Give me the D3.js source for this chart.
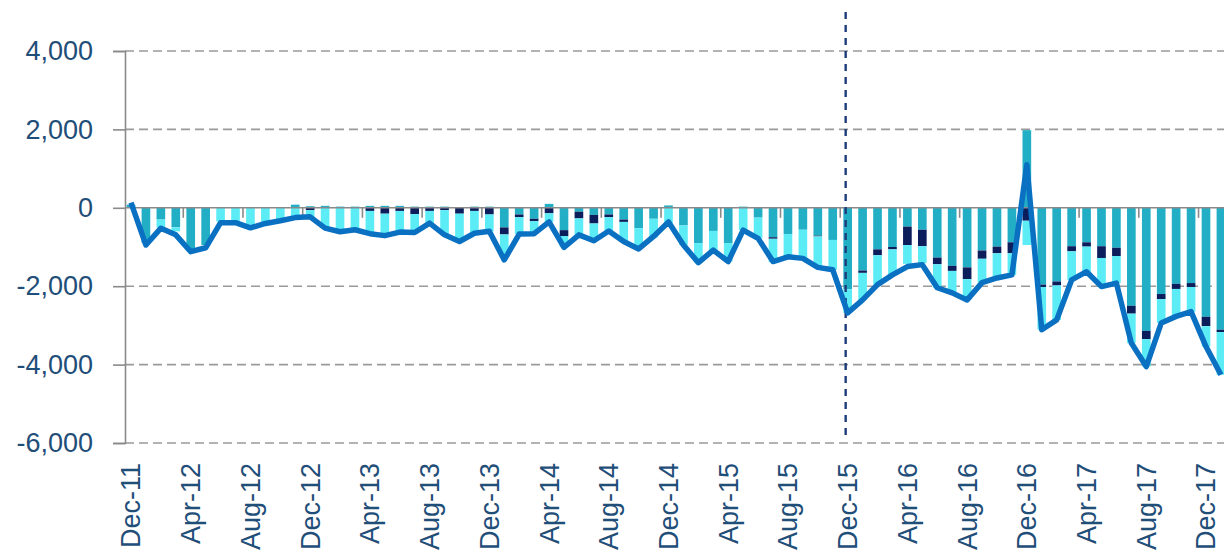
<!DOCTYPE html>
<html>
<head>
<meta charset="utf-8">
<script src="https://cdn.jsdelivr.net/npm/d3@7"></script>
<style>
  body { margin: 0; background: #fff; }
  svg text { font-family: "Liberation Sans", Arial, sans-serif; fill: #1f4e79; }
</style>
</head>
<body>
<svg id="chart" width="1224" height="556"></svg>
<script>
// ----- data -----
var months = ["Dec-11","Jan-12","Feb-12","Mar-12","Apr-12","May-12","Jun-12","Jul-12","Aug-12","Sep-12","Oct-12","Nov-12",
  "Dec-12","Jan-13","Feb-13","Mar-13","Apr-13","May-13","Jun-13","Jul-13","Aug-13","Sep-13","Oct-13","Nov-13",
  "Dec-13","Jan-14","Feb-14","Mar-14","Apr-14","May-14","Jun-14","Jul-14","Aug-14","Sep-14","Oct-14","Nov-14",
  "Dec-14","Jan-15","Feb-15","Mar-15","Apr-15","May-15","Jun-15","Jul-15","Aug-15","Sep-15","Oct-15","Nov-15",
  "Dec-15","Jan-16","Feb-16","Mar-16","Apr-16","May-16","Jun-16","Jul-16","Aug-16","Sep-16","Oct-16","Nov-16",
  "Dec-16","Jan-17","Feb-17","Mar-17","Apr-17","May-17","Jun-17","Jul-17","Aug-17","Sep-17","Oct-17","Nov-17",
  "Dec-17","Jan-18"];

var tealVals = [80,-900,-300,-500,-1100,-950,0,0,0,0,0,80,
  40,50,30,30,50,50,50,30,30,30,20,30,
  30,-500,-170,-280,100,-570,-100,-180,-170,-300,-520,-280,
  60,-450,-900,-590,-900,30,-250,-750,-670,-560,-710,-820,
  -2080,-1600,-1060,-1000,-480,-560,-1270,-1480,-1520,-1090,-990,-880,
  1980,-1960,-1880,-980,-880,-980,-1020,-2500,-3140,-2200,-1940,-1920,
  -2780,-3110];

var navyVals = [0,0,0,0,0,0,0,0,0,0,0,0,
  -60,0,0,0,-80,-150,-80,-160,-80,-60,-150,-80,
  -170,-180,-70,-60,-140,-150,-170,-220,-70,-60,0,0,
  0,0,0,0,0,0,0,-40,0,0,-20,0,
  0,-60,-150,-60,-470,-420,-170,-130,-300,-210,-170,-280,
  -330,-60,-100,-130,-110,-300,-210,-200,-210,-130,-130,-100,
  -240,-60];

var cyanVals = [0,0,-200,-100,0,0,-350,-380,-480,-380,-300,-230,
  -200,-520,-600,-560,-600,-550,-540,-470,-300,-620,-700,-570,
  -430,-600,-430,-320,-220,-280,-420,-440,-350,-500,-530,-480,
  -400,-500,-500,-490,-470,-570,-530,-600,-580,-730,-800,-760,
  -600,-690,-750,-650,-480,-430,-600,-560,-530,-610,-630,-550,
  -620,-1090,-880,-730,-640,-730,-690,-750,-700,-610,-700,-630,
  -520,-1090];

var netVals = [130,-950,-520,-690,-1120,-1020,-380,-380,-510,-400,-330,-250,
  -230,-520,-610,-560,-660,-710,-620,-630,-390,-690,-860,-650,
  -600,-1330,-670,-660,-360,-1010,-690,-840,-590,-860,-1050,-730,
  -360,-950,-1400,-1080,-1370,-570,-780,-1370,-1250,-1290,-1520,-1580,
  -2680,-2350,-1960,-1710,-1500,-1450,-2040,-2170,-2350,-1910,-1790,-1710,
  1100,-3110,-2860,-1840,-1630,-2010,-1920,-3450,-4050,-2940,-2770,-2650,
  -3540,-4260];

var yTicks = [4000, 2000, 0, -2000, -4000, -6000];
var labelEvery = 4;
var markerMonth = "Dec-15";

// ----- layout -----
var svg = d3.select("#chart");
var plotLeft = 125, plotTop = 51, plotBottom = 443;
var step = 1075 / 72;

var x = d3.scaleBand()
  .domain(months)
  .range([131 - step / 2, 131 - step / 2 + step * months.length])
  .paddingInner(0.42)
  .paddingOuter(0.21);

var y = d3.scaleLinear().domain([-6000, 4000]).range([plotBottom, plotTop]);

var rows = months.map(function (m, i) {
  return { month: m, teal: tealVals[i], navy: navyVals[i], cyan: cyanVals[i] };
});

var stack = d3.stack()
  .keys(["teal", "navy", "cyan"])
  .offset(d3.stackOffsetDiverging);
var series = stack(rows);
var colors = { teal: "#22afc6", navy: "#0c1d5c", cyan: "#5cecf6" };

// plain hyphen for negatives, like the original
var fmt = d3.formatLocale({ decimal: ".", thousands: ",", grouping: [3], currency: ["", ""], minus: "-" }).format(",");

// gridlines
svg.append("g")
  .selectAll("line")
  .data(yTicks.filter(function (d) { return d !== 0; }))
  .join("line")
  .attr("x1", plotLeft).attr("x2", 1224)
  .attr("y1", function (d) { return y(d); })
  .attr("y2", function (d) { return y(d); })
  .attr("stroke", "#9a9a9a")
  .attr("stroke-width", 1.6)
  .attr("stroke-dasharray", "9,5");

// bars
svg.append("g")
  .selectAll("g")
  .data(series)
  .join("g")
  .attr("fill", function (s) { return colors[s.key]; })
  .selectAll("rect")
  .data(function (s) { return s; })
  .join("rect")
  .attr("x", function (d) { return x(d.data.month); })
  .attr("width", x.bandwidth())
  .attr("y", function (d) { return y(Math.max(d[0], d[1])); })
  .attr("height", function (d) { return Math.abs(y(d[0]) - y(d[1])); });

// y axis
var yAxis = svg.append("g").attr("transform", "translate(" + plotLeft + ",0)")
  .call(d3.axisLeft(y).tickValues(yTicks).tickSize(12).tickPadding(20)
    .tickFormat(fmt));
yAxis.select(".domain").attr("stroke", "#8a8a8a").attr("stroke-width", 1.6);
yAxis.selectAll(".tick line").attr("stroke", "#8a8a8a").attr("stroke-width", 1.6);
yAxis.selectAll("text")
  .attr("font-size", 27)
  .attr("fill", "#1f4e79")
  .attr("font-family", "Liberation Sans, Arial, sans-serif");

// zero line
svg.append("line")
  .attr("x1", plotLeft).attr("x2", 1224)
  .attr("y1", y(0)).attr("y2", y(0))
  .attr("stroke", "#8a8a8a")
  .attr("stroke-width", 1.6);

// small category ticks on the zero line
var tickMonths = months.filter(function (m, i) { return i > 0 && i % labelEvery === 0; });
svg.append("g")
  .selectAll("line")
  .data(tickMonths)
  .join("line")
  .attr("x1", function (m) { return x(m) - x.step() * x.paddingInner() / 2; })
  .attr("x2", function (m) { return x(m) - x.step() * x.paddingInner() / 2; })
  .attr("y1", y(0)).attr("y2", y(0) + 10)
  .attr("stroke", "#8a8a8a")
  .attr("stroke-width", 1.6);

// x labels
svg.append("g")
  .selectAll("text")
  .data(months.filter(function (m, i) { return i % labelEvery === 0; }))
  .join("text")
  .attr("transform", function (m) {
    return "translate(" + (x(m) + x.bandwidth() / 2) + "," + 463 + ") rotate(-90)";
  })
  .attr("text-anchor", "end")
  .attr("dy", "0.35em")
  .attr("font-size", 27)
  .text(function (m) { return m; });

// marker line
var mx = x(markerMonth) + x.bandwidth() / 2 - 2;
svg.append("line")
  .attr("x1", mx).attr("x2", mx)
  .attr("y1", 12).attr("y2", 440)
  .attr("stroke", "#1f3c7a")
  .attr("stroke-width", 2.4)
  .attr("stroke-dasharray", "7,6");

// net line
var line = d3.line()
  .x(function (d, i) { return x(months[i]) + x.bandwidth() / 2; })
  .y(function (d) { return y(d); });

svg.append("path")
  .datum(netVals)
  .attr("d", line)
  .attr("fill", "none")
  .attr("stroke", "#0a70c2")
  .attr("stroke-width", 5.5)
  .attr("stroke-linejoin", "round");
</script>
</body>
</html>
